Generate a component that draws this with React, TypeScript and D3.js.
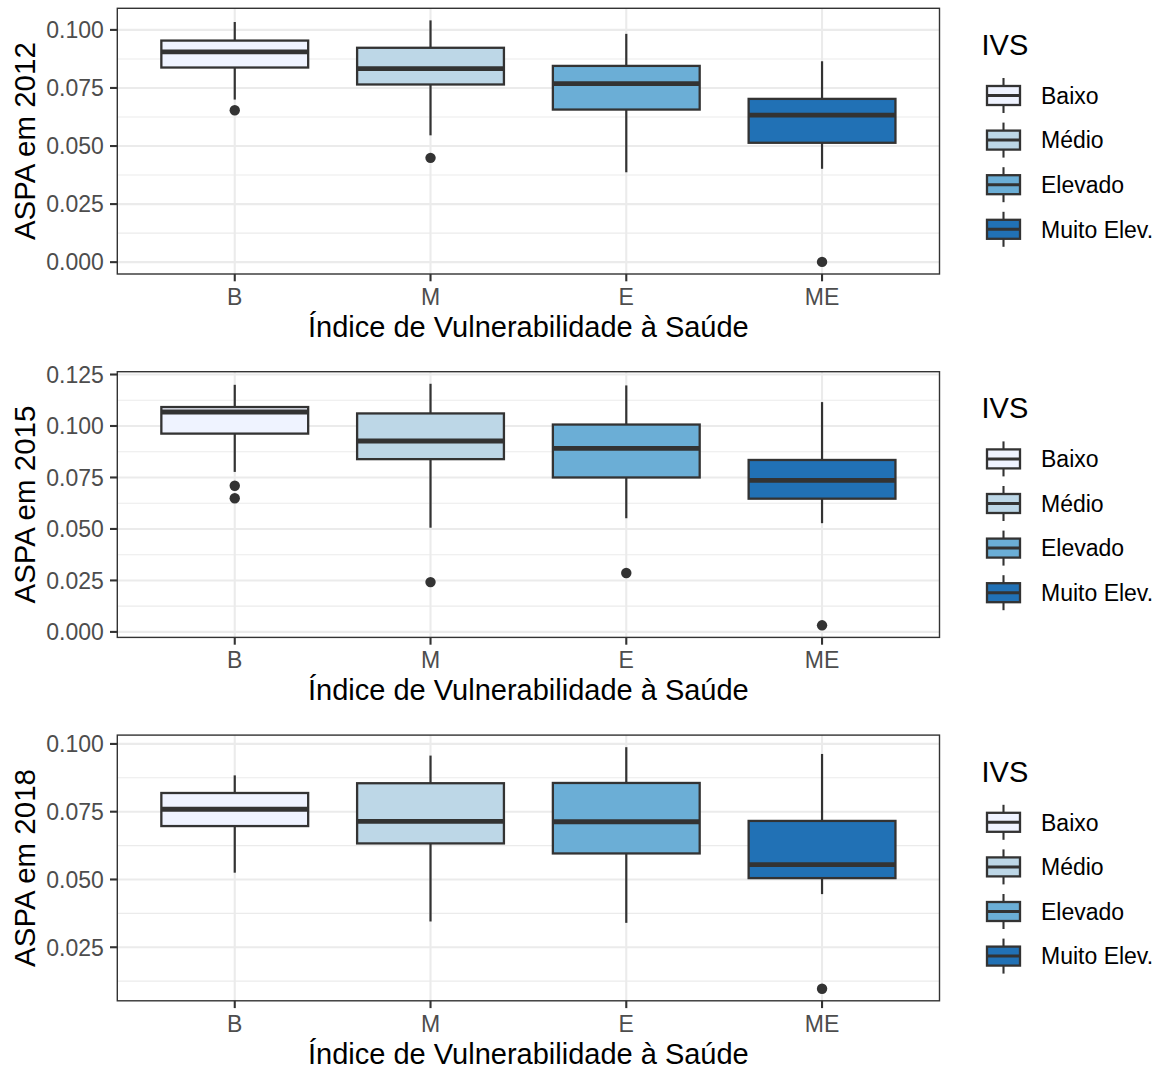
import React from "react";
import * as d3 from "d3";

const categories = ["B", "M", "E", "ME"];
const legendLabels = ["Baixo", "Médio", "Elevado", "Muito Elev."];
const fillColors = ["#EFF3FF", "#BDD7E7", "#6BAED6", "#2171B5"];
const xTitle = "Índice de Vulnerabilidade à Saúde";
const legendTitle = "IVS";

const years = ["2012", "2015", "2018"];

const whiskerLow2012 = [0.0700, 0.0546, 0.0387, 0.0402];
const q1_2012 = [0.0838, 0.0765, 0.0657, 0.0514];
const median2012 = [0.0905, 0.0833, 0.0769, 0.0633];
const q3_2012 = [0.0954, 0.0923, 0.0845, 0.0703];
const whiskerHigh2012 = [0.1034, 0.1041, 0.0983, 0.0865];
const outliers2012 = [[0.0654], [0.0449], [], [0.0001]];
const yTicks2012 = [0, 0.025, 0.05, 0.075, 0.1];

const whiskerLow2015 = [0.0777, 0.0506, 0.0552, 0.0528];
const q1_2015 = [0.0963, 0.0839, 0.0750, 0.0647];
const median2015 = [0.1068, 0.0927, 0.0891, 0.0736];
const q3_2015 = [0.1092, 0.1061, 0.1007, 0.0835];
const whiskerHigh2015 = [0.1200, 0.1205, 0.1197, 0.1116];
const outliers2015 = [[0.0710, 0.0649], [0.0242], [0.0286], [0.0032]];
const yTicks2015 = [0, 0.025, 0.05, 0.075, 0.1, 0.125];

const whiskerLow2018 = [0.0525, 0.0345, 0.0340, 0.0446];
const q1_2018 = [0.0697, 0.0633, 0.0596, 0.0505];
const median2018 = [0.0759, 0.0714, 0.0713, 0.0555];
const q3_2018 = [0.0819, 0.0855, 0.0856, 0.0716];
const whiskerHigh2018 = [0.0884, 0.0957, 0.0988, 0.0963];
const outliers2018 = [[], [], [], [0.0097]];
const yTicks2018 = [0.025, 0.05, 0.075, 0.1];

const panelsData = [
  { year: years[0], low: whiskerLow2012, q1: q1_2012, med: median2012, q3: q3_2012, high: whiskerHigh2012, out: outliers2012, ticks: yTicks2012 },
  { year: years[1], low: whiskerLow2015, q1: q1_2015, med: median2015, q3: q3_2015, high: whiskerHigh2015, out: outliers2015, ticks: yTicks2015 },
  { year: years[2], low: whiskerLow2018, q1: q1_2018, med: median2018, q3: q3_2018, high: whiskerHigh2018, out: outliers2018, ticks: yTicks2018 },
];

const FONT = "'Liberation Sans', Arial, Helvetica, sans-serif";
const DARK = "#333333";
const GRID = "#EBEBEB";

const W = 1161;
const H = 1070;
const PLOT_LEFT = 117.3;
const PLOT_RIGHT = 939.5;
const PANEL_STEP = 363.4;
const PLOT_TOP0 = 8.3;
const PLOT_H = 265.7;

function Panel({ d, index }: any) {
  const top = PLOT_TOP0 + index * PANEL_STEP;
  const bottom = top + PLOT_H;
  const allVals: number[] = [...d.low, ...d.high, ...d.out.flat()];
  const mn = d3.min(allVals) as number;
  const mx = d3.max(allVals) as number;
  const pad = (mx - mn) * 0.05;
  const y = d3.scaleLinear().domain([mn - pad, mx + pad]).range([bottom, top]);
  const x = d3.scalePoint().domain(categories).range([PLOT_LEFT, PLOT_RIGHT]).padding(0.6);
  const step = x.step();
  const bw = step * 0.75;
  const ticks: number[] = d.ticks;
  const tstep = ticks[1] - ticks[0];
  const minors: number[] = [];
  const [d0, d1] = y.domain();
  for (let v = ticks[0] - tstep / 2; v <= ticks[ticks.length - 1] + tstep; v += tstep) {
    if (v >= d0 && v <= d1) minors.push(v);
  }
  const fmt = d3.format(".3f");
  const midY = (top + bottom) / 2;
  const legTop = index * PANEL_STEP;

  return (
    <g>
      <rect x={PLOT_LEFT} y={top} width={PLOT_RIGHT - PLOT_LEFT} height={PLOT_H} fill="#fff" />
      {minors.map((v, i) => (
        <line key={"mi" + i} x1={PLOT_LEFT} x2={PLOT_RIGHT} y1={y(v)} y2={y(v)} stroke={GRID} strokeWidth={1.1} />
      ))}
      {ticks.map((v, i) => (
        <line key={"ma" + i} x1={PLOT_LEFT} x2={PLOT_RIGHT} y1={y(v)} y2={y(v)} stroke={GRID} strokeWidth={2.1} />
      ))}
      {categories.map((c) => (
        <line key={"vx" + c} x1={x(c)} x2={x(c)} y1={top} y2={bottom} stroke={GRID} strokeWidth={2.1} />
      ))}
      {categories.map((c, i) => {
        const cx = x(c) as number;
        return (
          <g key={"box" + c}>
            <line x1={cx} x2={cx} y1={y(d.q3[i])} y2={y(d.high[i])} stroke={DARK} strokeWidth={2.2} />
            <line x1={cx} x2={cx} y1={y(d.q1[i])} y2={y(d.low[i])} stroke={DARK} strokeWidth={2.2} />
            <rect x={cx - bw / 2} y={y(d.q3[i])} width={bw} height={y(d.q1[i]) - y(d.q3[i])} fill={fillColors[i]} stroke={DARK} strokeWidth={2.3} />
            <line x1={cx - bw / 2} x2={cx + bw / 2} y1={y(d.med[i])} y2={y(d.med[i])} stroke={DARK} strokeWidth={4.8} />
            {d.out[i].map((o: number, j: number) => (
              <circle key={j} cx={cx} cy={y(o)} r={5.2} fill={DARK} />
            ))}
          </g>
        );
      })}
      <rect x={PLOT_LEFT} y={top} width={PLOT_RIGHT - PLOT_LEFT} height={PLOT_H} fill="none" stroke={DARK} strokeWidth={1.4} />
      {ticks.map((v, i) => (
        <g key={"yt" + i}>
          <line x1={PLOT_LEFT - 7.3} x2={PLOT_LEFT} y1={y(v)} y2={y(v)} stroke={DARK} strokeWidth={2.1} />
          <text x={PLOT_LEFT - 13.5} y={y(v)} dy="0.36em" textAnchor="end" fontFamily={FONT} fontSize={23} fill="#4D4D4D">{fmt(v)}</text>
        </g>
      ))}
      {categories.map((c) => (
        <g key={"xt" + c}>
          <line x1={x(c)} x2={x(c)} y1={bottom} y2={bottom + 7.3} stroke={DARK} strokeWidth={2.1} />
          <text x={x(c)} y={bottom + 31} textAnchor="middle" fontFamily={FONT} fontSize={23} fill="#4D4D4D">{c}</text>
        </g>
      ))}
      <text x={(PLOT_LEFT + PLOT_RIGHT) / 2} y={bottom + 63} textAnchor="middle" fontFamily={FONT} fontSize={29} fill="#000">{xTitle}</text>
      <text transform={`translate(35,${midY}) rotate(-90)`} textAnchor="middle" fontFamily={FONT} fontSize={29.5} fill="#000">{"ASPA em " + d.year}</text>
      <g>
        <text x={981.5} y={legTop + 55} fontFamily={FONT} fontSize={29} fill="#000">{legendTitle}</text>
        {legendLabels.map((lab, k) => {
          const cy = legTop + 95.5 + k * 44.6;
          return (
            <g key={"lg" + k}>
              <line x1={1003.5} x2={1003.5} y1={cy - 17.5} y2={cy + 17.5} stroke={DARK} strokeWidth={2.1} />
              <rect x={987} y={cy - 9.5} width={33} height={19} fill={fillColors[k]} stroke={DARK} strokeWidth={2.3} />
              <line x1={987} x2={1020} y1={cy} y2={cy} stroke={DARK} strokeWidth={3} />
              <text x={1041} y={cy} dy="0.36em" fontFamily={FONT} fontSize={23} fill="#000">{lab}</text>
            </g>
          );
        })}
      </g>
    </g>
  );
}

export default function App() {
  return (
    <svg width={W} height={H} style={{ position: "absolute", left: 0, top: 0, background: "#fff" }}>
      <rect x={0} y={0} width={W} height={H} fill="#fff" />
      {panelsData.map((d, i) => (
        <Panel key={d.year} d={d} index={i} />
      ))}
    </svg>
  );
}
